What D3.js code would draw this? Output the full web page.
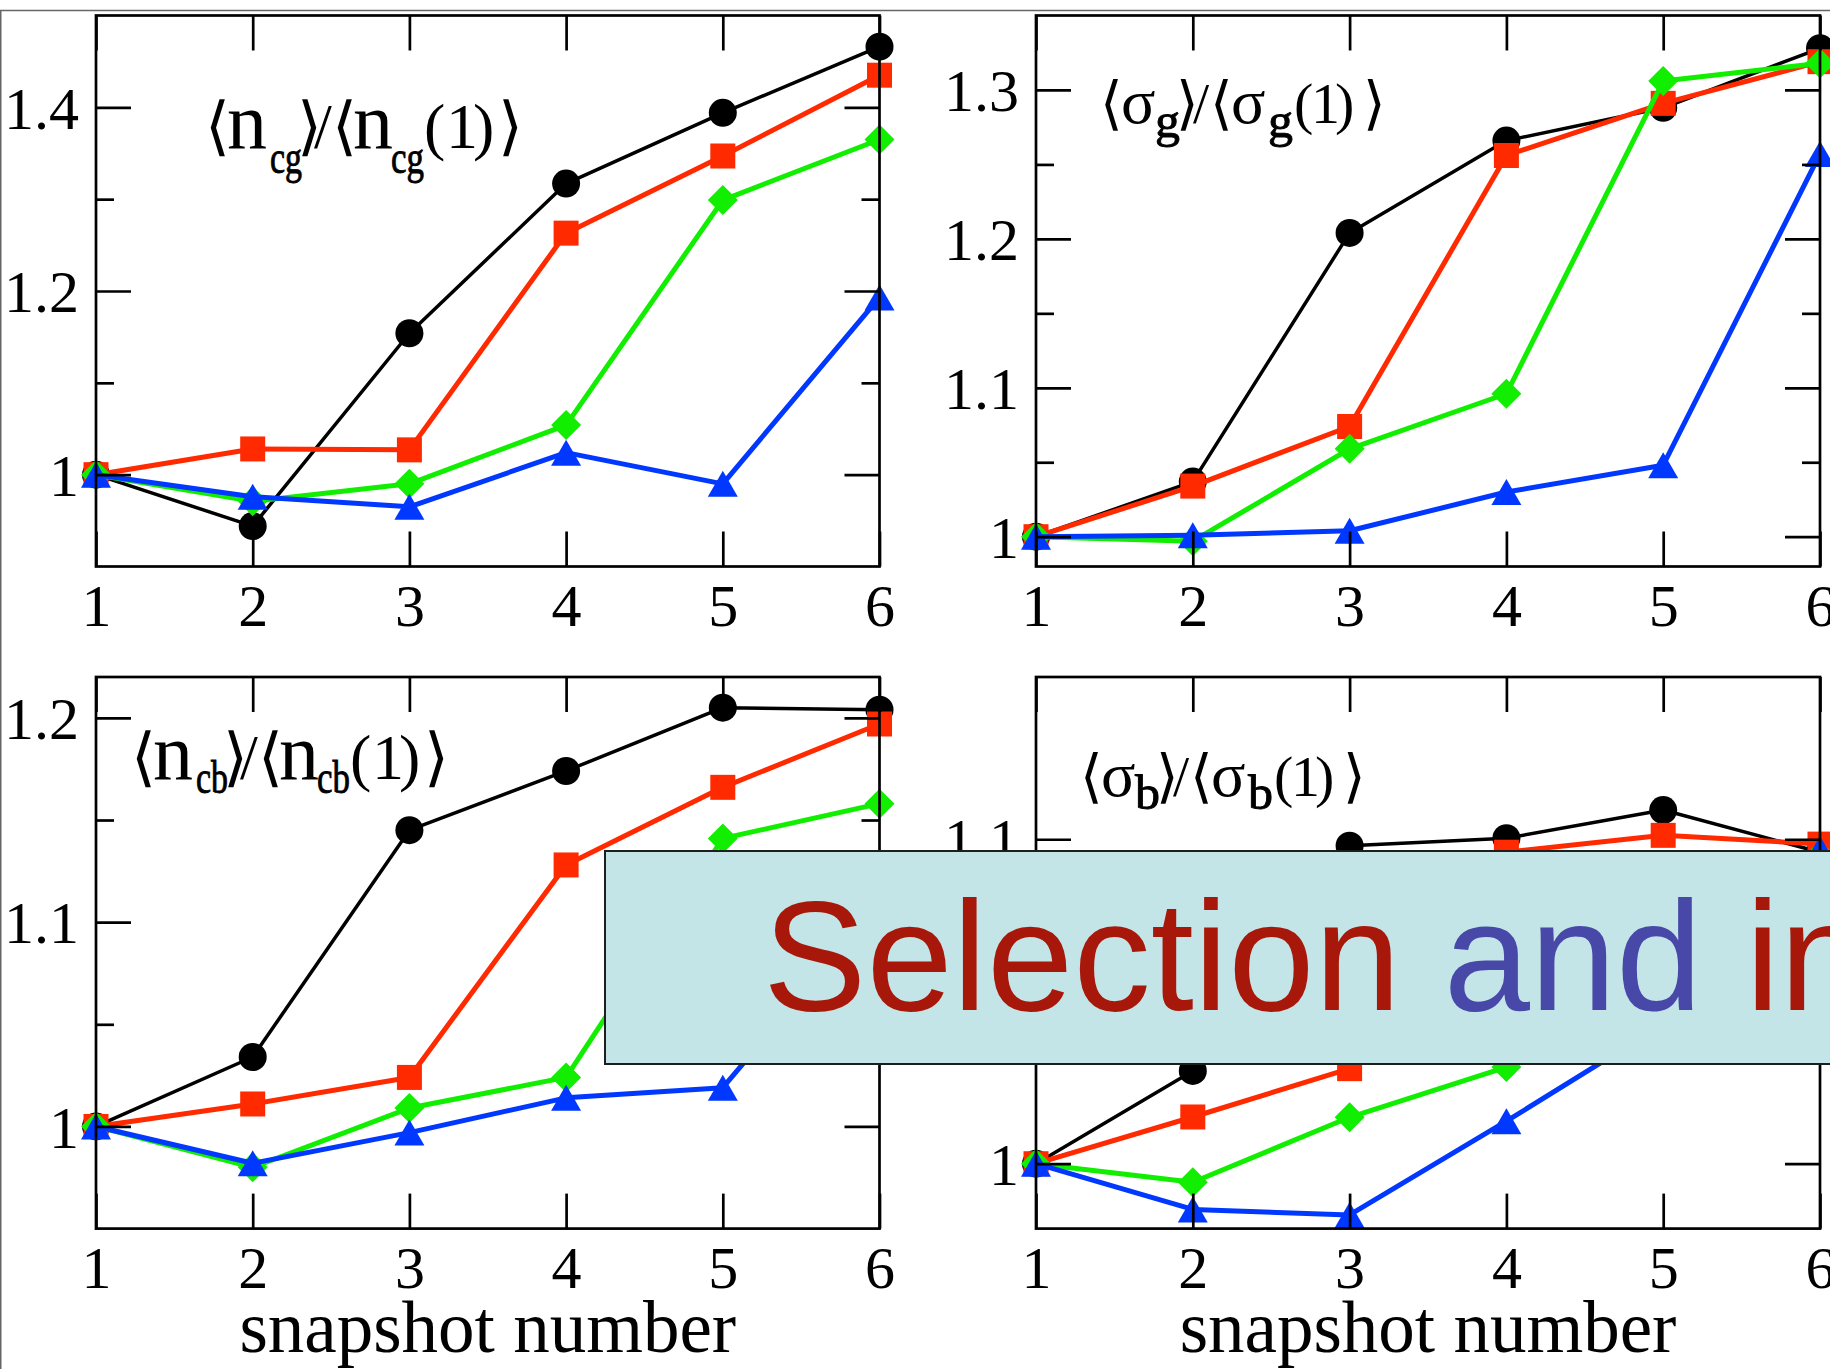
<!DOCTYPE html>
<html>
<head>
<meta charset="utf-8">
<script src="https://cdnjs.cloudflare.com/ajax/libs/d3/7.8.5/d3.min.js"></script>
<style>
  html, body { margin: 0; padding: 0; background: #ffffff; }
  svg { display: block; }
</style>
</head>
<body>
<script>
// Snapshot index shared by every panel
const snapshots = [1, 2, 3, 4, 5, 6];

// Series drawing order: black circles, red squares, green diamonds, blue triangles
const seriesColors = ["#000000", "#ff2a00", "#11ee00", "#0038ff"];
const seriesSymbols = ["circle", "square", "diamond", "triangle"];

// <n_cg>/<n_cg(1)>
const ncgBlack = [1.000, 0.944, 1.154, 1.317, 1.394, 1.466];
const ncgRed   = [1.000, 1.028, 1.027, 1.263, 1.347, 1.435];
const ncgGreen = [1.000, 0.971, 0.990, 1.054, 1.299, 1.365];
const ncgBlue  = [1.000, 0.976, 0.965, 1.024, 0.990, 1.193];
const ncgDomain = [0.9, 1.5];
const ncgTicks = [1, 1.2, 1.4];
const ncgTickLabels = ["1", "1.2", "1.4"];
const ncgMinor = [1.1, 1.3];

// <sigma_g>/<sigma_g(1)>
const sgBlack = [1.000, 1.037, 1.204, 1.266, 1.288, 1.328];
const sgRed   = [1.000, 1.034, 1.074, 1.256, 1.291, 1.319];
const sgGreen = [1.000, 0.997, 1.059, 1.096, 1.306, 1.318];
const sgBlue  = [1.000, 1.001, 1.004, 1.030, 1.048, 1.257];
const sgDomain = [0.98, 1.35];
const sgTicks = [1, 1.1, 1.2, 1.3];
const sgTickLabels = ["1", "1.1", "1.2", "1.3"];
const sgMinor = [1.05, 1.15, 1.25];

// <n_cb>/<n_cb(1)>
const ncbBlack = [1.000, 1.034, 1.145, 1.174, 1.205, 1.204];
const ncbRed   = [1.000, 1.011, 1.024, 1.128, 1.166, 1.197];
const ncbGreen = [1.000, 0.980, 1.009, 1.024, 1.141, 1.158];
const ncbBlue  = [1.000, 0.982, 0.997, 1.014, 1.019, 1.110];
const ncbDomain = [0.95, 1.22];
const ncbTicks = [1, 1.1, 1.2];
const ncbTickLabels = ["1", "1.1", "1.2"];
const ncbMinor = [1.05, 1.15];

// <sigma_b>/<sigma_b(1)>
const sbBlack = [1.000, 1.0286, 1.098, 1.1003, 1.109, 1.096];
const sbRed   = [1.000, 1.0144, 1.0293, 1.096, 1.1012, 1.0985];
const sbGreen = [1.000, 0.9943, 1.0143, 1.0298, 1.070, 1.095];
const sbBlue  = [1.000, 0.9859, 0.9842, 1.0131, 1.043, 1.097];
const sbDomain = [0.98, 1.15];
const sbTicks = [1, 1.1];
const sbTickLabels = ["1", "1.1"];
const sbMinor = [1.05];

const xLabel = "snapshot number";

const W = 1830, H = 1369;
const svg = d3.select("body").append("svg")
  .attr("width", W).attr("height", H)
  .attr("viewBox", `0 0 ${W} ${H}`);

svg.append("rect").attr("width", W).attr("height", H).attr("fill", "#ffffff");

// Outer border lines of the slide image
svg.append("line").attr("x1", 0).attr("x2", W).attr("y1", 10.5).attr("y2", 10.5)
  .attr("stroke", "#666").attr("stroke-width", 1.5);
svg.append("line").attr("x1", 0.75).attr("x2", 0.75).attr("y1", 10.5).attr("y2", H)
  .attr("stroke", "#666").attr("stroke-width", 1.5);

const serif = "'Liberation Serif', 'Times New Roman', Times, serif";

// Panel table assembled from the arrays above
const panels = [
  { series: [ncgBlack, ncgRed, ncgGreen, ncgBlue], domain: ncgDomain, ticks: ncgTicks,
    labels: ncgTickLabels, minor: ncgMinor, box: [96, 879.5, 15.5, 566.5], xlabel: false },
  { series: [sgBlack, sgRed, sgGreen, sgBlue], domain: sgDomain, ticks: sgTicks,
    labels: sgTickLabels, minor: sgMinor, box: [1036, 1820, 15.5, 566.5], xlabel: false },
  { series: [ncbBlack, ncbRed, ncbGreen, ncbBlue], domain: ncbDomain, ticks: ncbTicks,
    labels: ncbTickLabels, minor: ncbMinor, box: [96, 879.5, 677, 1228.6], xlabel: true },
  { series: [sbBlack, sbRed, sbGreen, sbBlue], domain: sbDomain, ticks: sbTicks,
    labels: sbTickLabels, minor: sbMinor, box: [1036, 1820, 677, 1228.6], xlabel: true }
];

function symbolPath(kind) {
  if (kind === "circle") return d3.symbol().type(d3.symbolCircle).size(Math.PI * 14 * 14)();
  if (kind === "square") return d3.symbol().type(d3.symbolSquare).size(25 * 25)();
  if (kind === "diamond") return "M0,-15L15,0L0,15L-15,0Z";
  return "M0,-13L15,13L-15,13Z";
}

const MAJOR = 35, MINOR = 18, AXW = 2.7;

function styleAxis(g) {
  g.select(".domain").remove();
  g.selectAll(".tick line").attr("stroke", "#000").attr("stroke-width", AXW);
  g.selectAll(".tick text").attr("fill", "#000")
    .attr("font-family", serif).attr("font-size", 60);
}

panels.forEach(p => {
  const [x0, x1, y0, y1] = p.box;
  const x = d3.scaleLinear().domain([1, 6]).range([x0, x1]);
  const y = d3.scaleLinear().domain(p.domain).range([y1, y0]);
  const g = svg.append("g");

  // data series: line first, then symbols, one set after another
  p.series.forEach((vals, si) => {
    const pts = snapshots.map((s, i) => ({ s, v: vals[i] }));
    g.append("path")
      .datum(pts)
      .attr("fill", "none")
      .attr("stroke", seriesColors[si])
      .attr("stroke-width", si === 0 ? 3.5 : 5)
      .attr("stroke-linejoin", "round")
      .attr("d", d3.line().x(d => x(d.s)).y(d => y(d.v)));
    g.append("g").selectAll("path")
      .data(pts).join("path")
      .attr("transform", d => `translate(${x(d.s)},${y(d.v)})`)
      .attr("d", symbolPath(seriesSymbols[si]))
      .attr("fill", seriesColors[si]);
  });

  // frame
  g.append("rect")
    .attr("x", x0).attr("y", y0).attr("width", x1 - x0).attr("height", y1 - y0)
    .attr("fill", "none").attr("stroke", "#000").attr("stroke-width", AXW);

  // bottom axis with labels, top mirror
  g.append("g").attr("transform", `translate(0,${y1})`)
    .call(d3.axisBottom(x).tickValues(snapshots).tickSize(-MAJOR).tickPadding(17)
      .tickFormat(d3.format("d")))
    .call(styleAxis);
  g.append("g").attr("transform", `translate(0,${y0})`)
    .call(d3.axisTop(x).tickValues(snapshots).tickSize(-MAJOR).tickFormat(""))
    .call(styleAxis);

  // left axis (major with labels, minor) and right mirror
  const lab = d => p.labels[p.ticks.indexOf(d)];
  g.append("g").attr("transform", `translate(${x0},0)`)
    .call(d3.axisLeft(y).tickValues(p.ticks).tickSize(-MAJOR).tickPadding(17).tickFormat(lab))
    .call(styleAxis)
    .call(a => a.selectAll(".tick text").attr("dy", "0.345em"));
  g.append("g").attr("transform", `translate(${x0},0)`)
    .call(d3.axisLeft(y).tickValues(p.minor).tickSize(-MINOR).tickFormat(""))
    .call(styleAxis);
  g.append("g").attr("transform", `translate(${x1},0)`)
    .call(d3.axisRight(y).tickValues(p.ticks).tickSize(-MAJOR).tickFormat(""))
    .call(styleAxis);
  g.append("g").attr("transform", `translate(${x1},0)`)
    .call(d3.axisRight(y).tickValues(p.minor).tickSize(-MINOR).tickFormat(""))
    .call(styleAxis);

  if (p.xlabel) {
    svg.append("text")
      .attr("x", (x0 + x1) / 2).attr("y", 1352)
      .attr("text-anchor", "middle")
      .attr("font-family", serif).attr("font-size", 73)
      .text(xLabel);
  }
});

// Panel titles: angle-bracket ratios with condensed, slightly heavier subscripts
function title(pieces, baseline, subShift) {
  const t = svg.append("text")
    .attr("font-family", serif).attr("fill", "#000");
  pieces.forEach(pc => {
    const s = t.append("tspan")
      .attr("x", pc.x)
      .attr("y", baseline + (pc.sub ? subShift : 0))
      .attr("font-size", pc.size)
      .attr("font-family", pc.font || serif)
      .text(pc.t);
    if (pc.sub) {
      s.attr("textLength", pc.len)
       .attr("lengthAdjust", "spacingAndGlyphs")
       .attr("stroke", "#000")
       .attr("stroke-width", 0.9);
    }
  });
}

const bracketFont = "'DejaVu Serif', 'DejaVu Sans', serif";

function nTitle(dx, baseline, sub, subShift) {
  title([
    { t: "\u27E8", x: 205 + dx, size: 64, font: bracketFont },
    { t: "n", x: 227 + dx, size: 80 },
    { t: sub, x: 270 + dx, size: 46, sub: true, len: 32 },
    { t: "\u27E9", x: 297 + dx, size: 64, font: bracketFont },
    { t: "/", x: 314 + dx, size: 64 },
    { t: "\u27E8", x: 332 + dx, size: 64, font: bracketFont },
    { t: "n", x: 353 + dx, size: 80 },
    { t: sub, x: 391 + dx, size: 46, sub: true, len: 33 },
    { t: "(", x: 424 + dx, size: 64 },
    { t: "1", x: 446 + dx, size: 64 },
    { t: ")", x: 473 + dx, size: 64 },
    { t: "\u27E9", x: 498 + dx, size: 64, font: bracketFont }
  ], baseline, subShift);
}

function sigmaTitle(dx, baseline, sub, subShift) {
  title([
    { t: "\u27E8", x: 1100 + dx, size: 58, font: bracketFont },
    { t: "\u03C3", x: 1121 + dx, size: 64 },
    { t: sub, x: 1155 + dx, size: 48, sub: true, len: 25 },
    { t: "\u27E9", x: 1176 + dx, size: 58, font: bracketFont },
    { t: "/", x: 1193 + dx, size: 58 },
    { t: "\u27E8", x: 1210 + dx, size: 58, font: bracketFont },
    { t: "\u03C3", x: 1231 + dx, size: 64 },
    { t: sub, x: 1268 + dx, size: 48, sub: true, len: 25 },
    { t: "(", x: 1294 + dx, size: 58 },
    { t: "1", x: 1311 + dx, size: 58 },
    { t: ")", x: 1335 + dx, size: 58 },
    { t: "\u27E9", x: 1363 + dx, size: 58, font: bracketFont }
  ], baseline, subShift);
}

nTitle(0, 148, "cg", 25);
sigmaTitle(0, 123, "g", 14);
nTitle(-74, 779, "cb", 14);
sigmaTitle(-20, 796, "b", 13);

// Slide banner laid over the lower panels
svg.append("rect")
  .attr("x", 605).attr("y", 851).attr("width", 1240).attr("height", 213)
  .attr("fill", "#c4e5e7").attr("stroke", "#1e1e1e").attr("stroke-width", 2);

const banner = svg.append("text")
  .attr("x", 763).attr("y", 1010)
  .attr("font-family", "'Liberation Sans', Arial, Helvetica, sans-serif")
  .attr("font-size", 155);
banner.append("tspan").attr("fill", "#a8180a").text("Selection ");
banner.append("tspan").attr("fill", "#4848a8").text("and ");
banner.append("tspan").attr("fill", "#a8180a").text("in");
</script>
</body>
</html>
